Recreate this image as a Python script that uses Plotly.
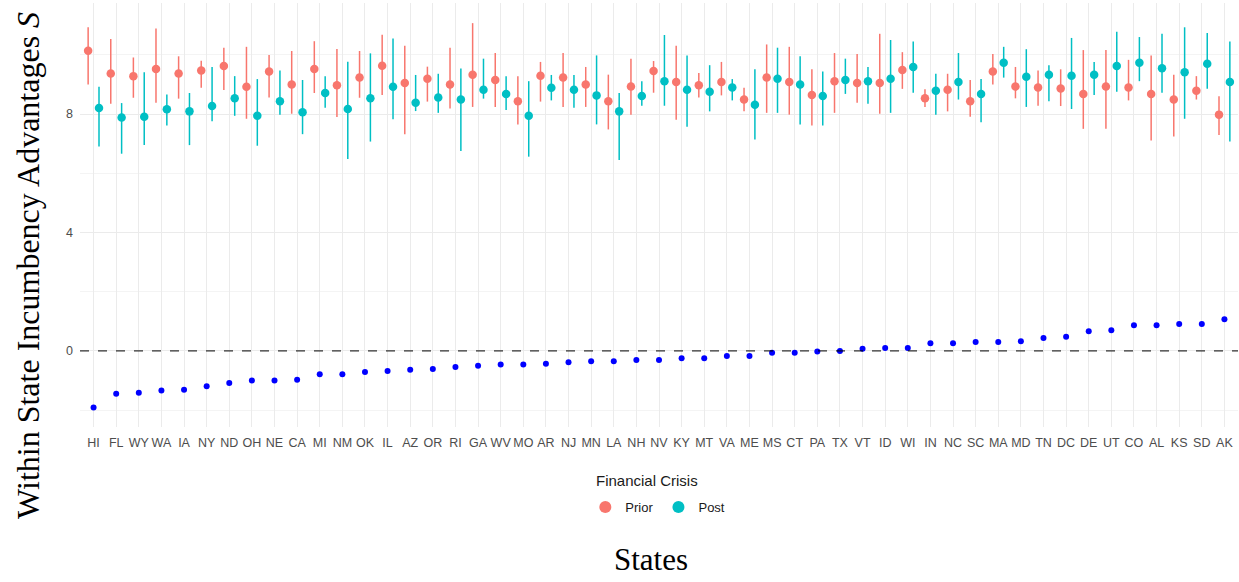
import numpy as np
import plotly.graph_objects as go

states = ["HI","FL","WY","WA","IA","NY","ND","OH","NE","CA","MI","NM","OK","IL","AZ","OR","RI",
          "GA","WV","MO","AR","NJ","MN","LA","NH","NV","KY","MT","VA","ME","MS","CT","PA","TX",
          "VT","ID","WI","IN","NC","SC","MA","MD","TN","DC","DE","UT","CO","AL","KS","SD","AK"]

prior_est = [10.14,9.37,9.28,9.52,9.37,9.47,9.62,8.92,9.44,9.00,9.52,8.97,9.23,9.63,9.05,9.19,9.00,
             9.33,9.15,8.43,9.29,9.23,9.00,8.43,8.93,9.45,9.08,8.97,9.08,8.49,9.23,9.08,8.64,9.11,
             9.05,9.05,9.49,8.53,8.82,8.43,9.44,8.93,8.90,8.86,8.68,8.93,8.90,8.68,8.49,8.79,7.98]
prior_lo = [9.00,8.35,8.55,8.38,8.52,8.89,8.81,7.84,8.56,8.01,8.71,7.90,8.55,8.64,7.32,8.42,8.19,
            8.24,8.24,7.65,8.42,8.24,8.24,7.48,7.98,8.72,7.81,8.56,8.63,8.09,8.04,7.98,7.61,8.04,
            8.38,8.01,8.85,8.24,8.09,7.91,9.00,8.53,8.28,8.27,7.50,7.50,8.46,7.11,7.24,8.49,7.29]
prior_hi = [10.93,10.53,9.91,10.89,9.95,9.80,10.24,10.27,9.99,10.13,10.46,10.20,10.13,10.68,10.31,9.60,10.24,
            11.07,10.06,9.28,9.76,10.06,9.59,9.33,9.87,9.79,10.31,9.39,9.76,8.89,10.35,10.27,9.51,10.06,
            10.03,10.71,10.09,8.84,9.36,9.15,10.03,9.59,9.47,9.51,10.16,10.16,9.83,9.98,9.33,9.28,8.60]

post_est = [8.20,7.88,7.91,8.16,8.09,8.27,8.53,7.94,8.43,8.06,8.71,8.17,8.53,8.92,8.38,8.56,8.49,
            8.82,8.68,7.94,8.89,8.82,8.63,8.09,8.61,9.11,8.82,8.75,8.90,8.31,9.19,9.00,8.61,9.15,
            9.11,9.19,9.59,8.79,9.08,8.68,9.73,9.26,9.33,9.29,9.33,9.62,9.73,9.55,9.41,9.70,9.08]
post_lo = [6.90,6.66,6.95,7.61,6.95,7.76,7.94,6.93,7.98,7.32,8.21,6.48,7.07,7.82,8.10,8.04,6.75,
           8.52,8.14,6.56,8.46,8.21,7.65,6.45,8.28,8.28,7.57,8.09,8.46,7.14,8.04,7.65,7.61,8.68,
           8.35,8.04,8.72,7.98,8.49,7.72,9.23,8.24,8.43,8.17,8.64,8.75,9.11,8.72,7.84,8.85,7.07]
post_hi = [8.92,8.37,9.41,8.66,8.71,9.59,9.28,9.18,9.47,9.15,9.28,9.77,10.05,10.55,9.32,9.36,9.54,
           9.87,9.28,9.11,9.32,9.32,9.98,8.71,9.11,10.67,9.98,9.65,9.18,9.51,10.24,9.95,9.44,9.87,
           9.59,10.50,10.45,9.36,10.06,9.18,10.27,10.19,9.65,10.57,9.76,10.78,10.60,10.71,10.93,10.74,10.45]

diff = [-1.91,-1.45,-1.41,-1.34,-1.31,-1.19,-1.08,-1.00,-1.00,-0.97,-0.79,-0.79,-0.71,-0.68,-0.64,-0.61,-0.54,
        -0.50,-0.46,-0.46,-0.43,-0.38,-0.35,-0.35,-0.31,-0.31,-0.25,-0.25,-0.17,-0.17,-0.06,-0.06,-0.02,0.00,
        0.07,0.10,0.10,0.26,0.26,0.30,0.30,0.33,0.44,0.48,0.66,0.70,0.87,0.87,0.91,0.91,1.07]

idx = np.arange(len(states))
dodge = 0.24
RED = "#F8766D"
TEAL = "#00BFC4"

pe, pl, ph = map(np.array, (prior_est, prior_lo, prior_hi))
qe, ql, qh = map(np.array, (post_est, post_lo, post_hi))

fig = go.Figure()
fig.add_trace(go.Scatter(
    x=idx - dodge, y=pe, mode="markers", name="Prior",
    marker=dict(color=RED, size=8.5),
    error_y=dict(type="data", symmetric=False, array=ph - pe, arrayminus=pe - pl,
                 color=RED, thickness=1.5, width=0),
))
fig.add_trace(go.Scatter(
    x=idx + dodge, y=qe, mode="markers", name="Post",
    marker=dict(color=TEAL, size=8.5),
    error_y=dict(type="data", symmetric=False, array=qh - qe, arrayminus=qe - ql,
                 color=TEAL, thickness=1.5, width=0),
))
fig.add_trace(go.Scatter(
    x=idx, y=diff, mode="markers", showlegend=False,
    marker=dict(color="blue", size=6),
))

fig.add_shape(type="line", xref="paper", x0=0, x1=1, yref="y", y0=0, y1=0,
              line=dict(color="black", width=1, dash="dash"), layer="above")

tick_font = dict(family="Liberation Sans, Arial, sans-serif", size=12.5, color="#4D4D4D")
fig.update_xaxes(
    tickmode="array", tickvals=idx, ticktext=states, range=[-0.6, len(states) - 0.4],
    showgrid=True, gridcolor="#EBEBEB", gridwidth=1, zeroline=False, showline=False,
    ticks="", tickfont=tick_font, ticklabelstandoff=6,
)
fig.update_yaxes(
    tickmode="array", tickvals=[0, 4, 8], range=[-2.57, 11.75],
    showgrid=True, gridcolor="#EBEBEB", gridwidth=1, zeroline=False, showline=False,
    ticks="", tickfont=tick_font, ticklabelstandoff=6,
    minor=dict(tickvals=[-2, 2, 6, 10], showgrid=True, gridcolor="#F4F4F4", gridwidth=1),
)

legend_font = dict(family="Liberation Sans, Arial, sans-serif", size=13, color="#1A1A1A")
fig.update_layout(
    width=1239, height=582,
    margin=dict(l=80, r=1, t=3, b=155),
    plot_bgcolor="white", paper_bgcolor="white",
    showlegend=True,
    legend=dict(
        orientation="h", x=0.499, xanchor="center", y=-0.189, yanchor="middle",
        font=legend_font, itemsizing="constant",
    ),
    annotations=[
        dict(text="Financial Crisis", xref="paper", yref="paper", x=0.49, y=-0.127,
             xanchor="center", yanchor="middle", showarrow=False,
             font=dict(family="Liberation Sans, Arial, sans-serif", size=15, color="#1A1A1A")),
        dict(text="States", xref="paper", yref="paper", x=0.493, y=-0.3585,
             xanchor="center", yanchor="bottom", showarrow=False,
             font=dict(family="Liberation Serif, Times New Roman, serif", size=31, color="black")),
        dict(text="Within State Incumbency Advantages <i>S</i>", xref="paper", yref="paper",
             x=-0.045, y=0.382, xanchor="center", yanchor="middle", textangle=-90, showarrow=False,
             font=dict(family="Liberation Serif, Times New Roman, serif", size=32, color="black")),
    ],
)

fig.write_html("out.html")
